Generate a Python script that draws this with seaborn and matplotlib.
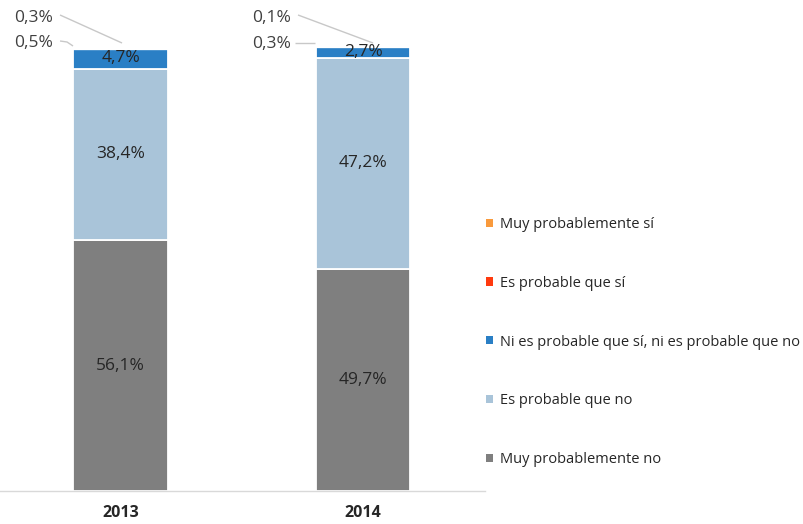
import matplotlib
matplotlib.use("Agg")
import matplotlib.pyplot as plt
from matplotlib.patches import Patch
import seaborn as sns
import pandas as pd
import numpy as np

years = ["2013", "2014"]
series_names = ["Muy probablemente no", "Es probable que no",
                "Ni es probable que sí, ni es probable que no",
                "Es probable que sí", "Muy probablemente sí"]
muy_no = [56.1, 49.7]
prob_no = [38.4, 47.2]
ni_ni = [4.7, 2.7]
prob_si = [0.5, 0.3]
muy_si = [0.3, 0.1]
colors = ["#7f7f7f", "#a9c4d9", "#2a7fc5", "#ff3a0e", "#f99a3c"]

sns.set_theme(style="white")
plt.rcParams["font.family"] = ["Open Sans", "DejaVu Sans"]

fig = plt.figure(figsize=(8.04, 5.24), dpi=100)
ax = fig.add_axes([0.0, 33 / 524, 485 / 804, 447 / 524])

values = [muy_no, prob_no, ni_ni, prob_si, muy_si]
bottom = np.zeros(len(years))
for k, (name, vals, col) in enumerate(zip(series_names, values, colors)):
    df = pd.DataFrame({"year": years, "pct": vals})
    lw = 1.3 if k < 3 else 2.4
    sns.barplot(data=df, x="year", y="pct", ax=ax, color=col, width=0.39,
                bottom=bottom.copy(), edgecolor="white", linewidth=lw,
                saturation=1)
    bottom = bottom + np.array(vals)

# inside labels
fmt = lambda v: f"{v:.1f}%".replace(".", ",")
cum = np.zeros(len(years))
for vals in [muy_no, prob_no, ni_ni]:
    for i, v in enumerate(vals):
        ax.text(i, cum[i] + v / 2, fmt(v), ha="center", va="center",
                fontsize=12.5, color="#262626")
    cum = cum + np.array(vals)

# outside labels with leader lines
def px2d(px, py):
    return ((px - 120.5) / 242.5, (491 - py) / 4.47)

lc = "#c8c8c8"
out = [
    (fmt(muy_si[0]), (34, 18), [(60, 15), (122, 43)]),
    (fmt(prob_si[0]), (34, 43), [(60, 41), (67, 42), (73, 46)]),
    (fmt(muy_si[1]), (272, 18), [(298, 15), (373, 43)]),
    (fmt(prob_si[1]), (272, 44), [(295, 43), (315, 43)]),
]
for txt, tpos, pts in out:
    tx, ty = px2d(*tpos)
    ax.text(tx, ty, txt, ha="center", va="center", fontsize=12.5,
            color="#404040", clip_on=False)
    xs, ys = zip(*[px2d(*p) for p in pts])
    ax.plot(xs, ys, color=lc, lw=1.0, clip_on=False, solid_capstyle="butt")

ax.set_xlim(-0.497, 1.503)
ax.set_ylim(0, 100)
ax.set_xlabel("")
ax.set_ylabel("")
ax.set_yticks([])
for s in ["top", "right", "left"]:
    ax.spines[s].set_visible(False)
ax.spines["bottom"].set_color("#d9d9d9")
ax.spines["bottom"].set_linewidth(1.0)
ax.tick_params(axis="x", length=0, pad=10)
for lab in ax.get_xticklabels():
    lab.set_fontweight("bold")
    lab.set_fontsize(11.5)
    lab.set_color("#262626")

handles = [Patch(facecolor=c, edgecolor="none", label=n)
           for n, c in zip(series_names, colors)][::-1]
fig.legend(handles=handles, loc="center left",
           bbox_to_anchor=(486 / 804, (524 - 342) / 524),
           frameon=False, fontsize=10.5, borderpad=0, borderaxespad=0,
           handlelength=0.5, handleheight=0.5, handletextpad=0.45,
           labelspacing=3.0, labelcolor="#262626")

fig.savefig("out.png", dpi=100)
